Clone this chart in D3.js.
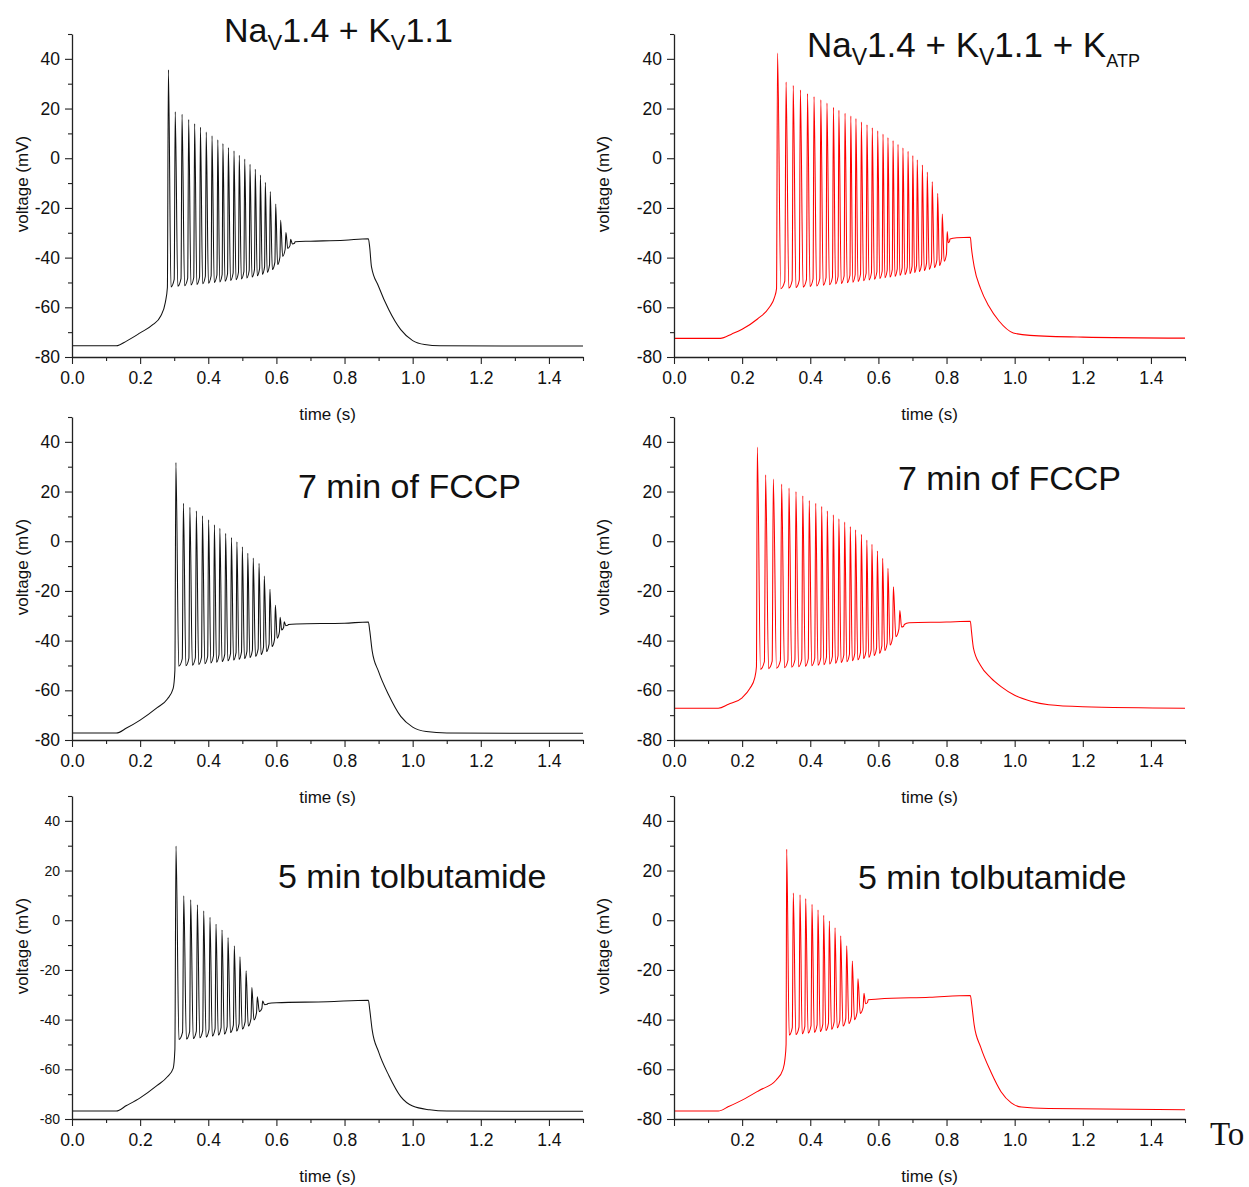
<!DOCTYPE html>
<html>
<head>
<meta charset="utf-8">
<script src="https://cdn.jsdelivr.net/npm/d3@7"></script>
<style>
  html, body { margin: 0; padding: 0; background: #fff; }
  svg { display: block; }
  text { font-family: "Liberation Sans", Arial, Helvetica, sans-serif; fill: #111; }
</style>
</head>
<body>
<svg id="fig" width="1249" height="1187"></svg>
<script>
// ---------- axis ticks ----------
const timeTicks = [0, 0.2, 0.4, 0.6, 0.8, 1.0, 1.2, 1.4];
const timeMinorTicks = [0.1, 0.3, 0.5, 0.7, 0.9, 1.1, 1.3, 1.5];
const voltTicks = [-80, -60, -40, -20, 0, 20, 40];
const voltMinorTicks = [-70, -50, -30, -10, 10, 30, 50];

// ---------- Nav1.4 + Kv1.1 ----------
const kvRise = [[0, -75.5], [0.13, -75.5], [0.16, -73.6], [0.2, -70.3], [0.238, -66.9], [0.26, -63.6], [0.274, -58], [0.28, -52]];
const kvSpikeTimes = [0.283, 0.303, 0.323, 0.3425, 0.360, 0.377, 0.394, 0.411, 0.428, 0.443, 0.459, 0.4755, 0.491, 0.507, 0.5225, 0.538, 0.553, 0.5675, 0.582, 0.598, 0.6125, 0.628, 0.642];
const kvSpikePeaks = [35.6, 18.7, 17.7, 15.6, 13.9, 12.5, 10.5, 9.0, 7.4, 5.9, 4.3, 3.0, 1.2, -0.3, -2.4, -4.4, -6.8, -9.7, -13.4, -18.4, -25.0, -29.9, -32.6];
const kvTroughs = [-51.8, -51.5, -51.3, -51.0, -50.8, -50.5, -50.3, -50.0, -49.8, -49.5, -49.2, -48.9, -48.6, -48.2, -47.8, -47.3, -46.7, -45.9, -44.8, -42.8, -39.5, -36.3, -34.5];
const kvTail = [[0.655, -33.6], [0.7, -33.4], [0.8, -33.0], [0.87, -32.4], [0.874, -36], [0.879, -43.6], [0.9, -51.6], [0.93, -61], [0.965, -69], [1.0, -73.4], [1.035, -75], [1.08, -75.5], [1.5, -75.6]];

// ---------- Nav1.4 + Kv1.1 + KATP ----------
const katpRise = [[0, -72.5], [0.136, -72.5], [0.17, -70.7], [0.2, -68.8], [0.245, -64.7], [0.28, -60], [0.295, -56], [0.301, -52.5]];
const katpSpikeTimes = [0.304, 0.329, 0.350, 0.371, 0.392, 0.411, 0.431, 0.449, 0.468, 0.484, 0.502, 0.519, 0.534, 0.550, 0.5665, 0.582, 0.598, 0.6135, 0.628, 0.643, 0.6575, 0.672, 0.687, 0.701, 0.714, 0.729, 0.7435, 0.758, 0.774, 0.7875, 0.802];
const katpSpikePeaks = [42.3, 30.7, 29.3, 27.5, 26.0, 24.8, 23.5, 22.2, 20.5, 19.3, 18.1, 17.0, 16.0, 14.6, 13.5, 12.3, 11.0, 9.7, 8.3, 7.1, 5.6, 4.2, 2.8, 1.1, -0.6, -2.7, -5.6, -9.4, -14.1, -22.5, -29.5];
const katpTroughs = [-52.5, -52.3, -52.1, -51.9, -51.6, -51.4, -51.1, -50.9, -50.6, -50.4, -50.1, -49.9, -49.6, -49.3, -49.0, -48.7, -48.4, -48.1, -47.8, -47.5, -47.1, -46.8, -46.4, -46.0, -45.6, -45.2, -44.7, -44.0, -43.2, -41.5, -34.0];
const katpTail = [[0.81, -32.5], [0.83, -32.0], [0.87, -31.8], [0.873, -36], [0.881, -43.5], [0.9, -52.5], [0.924, -59.5], [0.954, -65.5], [0.996, -70.3], [1.045, -71.3], [1.2, -72.0], [1.5, -72.4]];

// ---------- 7 min of FCCP (Nav1.4 + Kv1.1) ----------
const fccpKvRise = [[0, -77.2], [0.13, -77.2], [0.16, -75.2], [0.2, -72], [0.25, -67], [0.28, -63.5], [0.297, -59.2], [0.302, -52]];
const fccpKvSpikeTimes = [0.305, 0.327, 0.346, 0.365, 0.383, 0.401, 0.418, 0.434, 0.451, 0.468, 0.484, 0.500, 0.516, 0.532, 0.549, 0.5645, 0.581, 0.597, 0.611, 0.623];
const fccpKvSpikePeaks = [31.7, 15.3, 13.7, 12.2, 10.2, 8.6, 6.6, 5.2, 3.2, 1.5, -0.2, -2.2, -4.8, -6.8, -8.9, -14.0, -19.3, -25.8, -30.6, -32.4];
const fccpKvTroughs = [-50.3, -50.1, -49.9, -49.6, -49.3, -49.0, -48.7, -48.4, -48.1, -47.8, -47.5, -47.2, -46.8, -46.3, -45.6, -44.4, -42.4, -39.0, -35.7, -34.0];
const fccpKvTail = [[0.635, -33.5], [0.66, -33.3], [0.8, -33.0], [0.87, -32.5], [0.874, -36], [0.881, -44], [0.9, -52.5], [0.93, -62], [0.965, -70.5], [1.0, -74.8], [1.04, -76.6], [1.1, -77.2], [1.5, -77.3]];

// ---------- 7 min of FCCP (with KATP) ----------
const fccpKatpRise = [[0, -67.2], [0.13, -67.2], [0.16, -65.6], [0.2, -63], [0.223, -59.2], [0.237, -55], [0.242, -50.5]];
const fccpKatpSpikeTimes = [0.2446, 0.269, 0.2916, 0.316, 0.3376, 0.358, 0.378, 0.397, 0.416, 0.4335, 0.450, 0.4676, 0.484, 0.501, 0.5175, 0.533, 0.550, 0.566, 0.581, 0.597, 0.6125, 0.628, 0.644, 0.663];
const fccpKatpSpikePeaks = [37.9, 26.7, 25.0, 23.0, 21.4, 20.0, 18.3, 16.4, 15.3, 14.0, 12.2, 10.6, 9.0, 7.7, 5.9, 4.6, 2.8, 0.5, -1.2, -3.9, -6.9, -10.9, -18.3, -27.9];
const fccpKatpTroughs = [-51.5, -51.3, -51.1, -50.9, -50.7, -50.5, -50.3, -50.1, -49.9, -49.7, -49.4, -49.1, -48.8, -48.5, -48.1, -47.7, -47.2, -46.7, -46.0, -45.1, -44.0, -41.8, -38.4, -34.5];
const fccpKatpTail = [[0.676, -33.5], [0.69, -32.8], [0.8, -32.5], [0.87, -32.2], [0.873, -36], [0.879, -43], [0.9, -50], [0.93, -55], [0.96, -58.5], [1.0, -62], [1.05, -64.5], [1.1, -65.8], [1.2, -66.6], [1.5, -67.2]];

// ---------- 5 min tolbutamide (Nav1.4 + Kv1.1) ----------
const tolbKvRise = [[0, -76.8], [0.13, -76.8], [0.16, -74.6], [0.2, -71.5], [0.25, -66.5], [0.28, -63], [0.297, -59.6], [0.302, -52]];
const tolbKvSpikeTimes = [0.3053, 0.328, 0.3484, 0.368, 0.3866, 0.405, 0.4227, 0.4403, 0.458, 0.4765, 0.493, 0.511, 0.528, 0.544, 0.5597];
const tolbKvSpikePeaks = [29.9, 9.8, 8.2, 6.2, 3.8, 1.2, -1.5, -3.9, -7.0, -10.3, -14.7, -20.3, -27.1, -30.8, -32.5];
const tolbKvTroughs = [-48.0, -47.8, -47.6, -47.3, -47.0, -46.6, -46.2, -45.8, -45.2, -44.6, -43.8, -42.6, -40.1, -36.8, -34.0];
const tolbKvTail = [[0.575, -33.5], [0.6, -33.2], [0.75, -32.8], [0.87, -32.2], [0.874, -36], [0.881, -44], [0.9, -53], [0.93, -62.5], [0.965, -71], [1.0, -74.8], [1.05, -76.3], [1.1, -76.8], [1.5, -76.9]];

// ---------- 5 min tolbutamide (with KATP) ----------
const tolbKatpRise = [[0, -76.8], [0.13, -76.8], [0.16, -75], [0.2, -72.4], [0.25, -68.5], [0.3, -64.3], [0.32, -60], [0.326, -55.6], [0.329, -50]];
const tolbKatpSpikeTimes = [0.3308, 0.3502, 0.3699, 0.3866, 0.4051, 0.4227, 0.4394, 0.4559, 0.4726, 0.4893, 0.5069, 0.5234, 0.540, 0.5577];
const tolbKatpSpikePeaks = [28.6, 10.9, 10.2, 8.7, 6.4, 4.2, 2.0, -0.3, -3.0, -6.3, -10.3, -16.4, -23.6, -29.4];
const tolbKatpTroughs = [-46.2, -46.0, -45.7, -45.4, -45.1, -44.8, -44.4, -43.9, -43.3, -42.6, -41.6, -40.0, -37.5, -33.6];
const tolbKatpTail = [[0.57, -32.0], [0.6, -31.7], [0.75, -31.0], [0.87, -30.3], [0.874, -34], [0.881, -42], [0.9, -51], [0.93, -61], [0.96, -69], [0.99, -73.5], [1.02, -75.2], [1.1, -75.8], [1.5, -76.3]];

// ---------- panel titles (text pieces: 0 = normal, 1 = subscript, 2 = small subscript) ----------
const titleKv = [["Na", 0], ["V", 1], ["1.4 + K", 0], ["V", 1], ["1.1", 0]];
const titleKatp = [["Na", 0], ["V", 1], ["1.4 + K", 0], ["V", 1], ["1.1 + K", 0], ["ATP", 2]];
const titleFccp = [["7 min of FCCP", 0]];
const titleTolb = [["5 min tolbutamide", 0]];

// ---------- layout ----------
const PLOT_W = 511;
const PLOT_H = 323;
const colLeft = [72, 674];
const rowBottom = [357, 740, 1119];

const panels = [
  { rise: kvRise, t: kvSpikeTimes, p: kvSpikePeaks, m: kvTroughs, tail: kvTail,
    color: "#111", col: 0, row: 0, title: titleKv, tx: 224, ty: 42, tsize: 34, subSize: 22, tickFont: 17.5, skipZero: false },
  { rise: katpRise, t: katpSpikeTimes, p: katpSpikePeaks, m: katpTroughs, tail: katpTail,
    color: "#ff0000", col: 1, row: 0, title: titleKatp, tx: 807, ty: 57, tsize: 35, subSize: 23, tickFont: 17.5, skipZero: false },
  { rise: fccpKvRise, t: fccpKvSpikeTimes, p: fccpKvSpikePeaks, m: fccpKvTroughs, tail: fccpKvTail,
    color: "#111", col: 0, row: 1, title: titleFccp, tx: 298, ty: 498, tsize: 34, subSize: 22, tickFont: 17.5, skipZero: false },
  { rise: fccpKatpRise, t: fccpKatpSpikeTimes, p: fccpKatpSpikePeaks, m: fccpKatpTroughs, tail: fccpKatpTail,
    color: "#ff0000", col: 1, row: 1, title: titleFccp, tx: 898, ty: 490, tsize: 34, subSize: 22, tickFont: 17.5, skipZero: false },
  { rise: tolbKvRise, t: tolbKvSpikeTimes, p: tolbKvSpikePeaks, m: tolbKvTroughs, tail: tolbKvTail,
    color: "#111", col: 0, row: 2, title: titleTolb, tx: 278, ty: 888, tsize: 34, subSize: 22, tickFont: 14, skipZero: false },
  { rise: tolbKatpRise, t: tolbKatpSpikeTimes, p: tolbKatpSpikePeaks, m: tolbKatpTroughs, tail: tolbKatpTail,
    color: "#ff0000", col: 1, row: 2, title: titleTolb, tx: 858, ty: 889, tsize: 34, subSize: 22, tickFont: 17.5, skipZero: true }
];

// Builds the membrane-voltage trace: pre-spike ramp, each spike peak with its
// after-hyperpolarisation trough, then the plateau and repolarisation.
function tracePoints(d) {
  const pts = d.rise.slice();
  d.t.forEach((t, i) => {
    const last = i === d.t.length - 1;
    const next = last ? d.tail[0][0] : d.t[i + 1];
    const nextV = last ? d.tail[0][1] : d.p[i + 1];
    const dt = next - t;
    pts.push([t, d.p[i]]);
    pts.push([t + 0.38 * dt, d.m[i]]);
    pts.push([t + 0.85 * dt, d.m[i] + Math.min(3, (nextV - d.m[i]) * 0.3)]);
  });
  return pts.concat(d.tail);
}

const svg = d3.select("#fig");
const x = d3.scaleLinear().domain([0, 1.5]).range([0, PLOT_W]);
const y = d3.scaleLinear().domain([-80, 50]).range([PLOT_H, 0]);
const line = d3.line().x(d => x(d[0])).y(d => y(d[1])).curve(d3.curveMonotoneX);
const plainInt = v => String(v);  // hyphen-minus, as on the original axes

panels.forEach(d => {
  const left = colLeft[d.col];
  const top = rowBottom[d.row] - PLOT_H;
  const g = svg.append("g").attr("transform", `translate(${left},${top})`);

  // trace
  g.append("path")
    .datum(tracePoints(d))
    .attr("fill", "none")
    .attr("stroke", d.color)
    .attr("stroke-width", 1.05)
    .attr("stroke-linejoin", "round")
    .attr("d", line);

  // minor ticks
  g.append("g").attr("transform", `translate(0,${PLOT_H})`)
    .call(d3.axisBottom(x).tickValues(timeMinorTicks).tickSize(4).tickSizeOuter(0).tickFormat(""))
    .call(a => a.select(".domain").remove());
  g.append("g")
    .call(d3.axisLeft(y).tickValues(voltMinorTicks).tickSize(4).tickSizeOuter(0).tickFormat(""))
    .call(a => a.select(".domain").remove());

  // major axes
  const xAx = g.append("g").attr("class", "xaxis").attr("transform", `translate(0,${PLOT_H})`)
    .call(d3.axisBottom(x).tickValues(timeTicks).tickSize(7).tickSizeOuter(0).tickPadding(8)
      .tickFormat(v => (d.skipZero && v === 0) ? "" : d3.format(".1f")(v)));
  xAx.selectAll("text").attr("font-size", 17.5).attr("fill", "#111")
    .style("font-family", '"Liberation Sans", Arial, sans-serif');

  const yAx = g.append("g").attr("class", "yaxis")
    .call(d3.axisLeft(y).tickValues(voltTicks).tickSize(7).tickSizeOuter(0).tickPadding(5)
      .tickFormat(plainInt));
  yAx.selectAll("text").attr("font-size", d.tickFont).attr("fill", "#111")
    .style("font-family", '"Liberation Sans", Arial, sans-serif');

  g.selectAll(".domain").attr("stroke", "#222").attr("stroke-width", 1.3);
  g.selectAll(".tick line").attr("stroke", "#222").attr("stroke-width", 1.1);

  // axis titles
  g.append("text")
    .attr("x", PLOT_W / 2).attr("y", PLOT_H + 57)
    .attr("text-anchor", "middle").attr("dominant-baseline", "central")
    .attr("font-size", 17)
    .text("time (s)");
  g.append("text")
    .attr("transform", `translate(${d.col === 0 ? -50 : -71},150) rotate(-90)`)
    .attr("text-anchor", "middle").attr("dominant-baseline", "central")
    .attr("font-size", 17)
    .text("voltage (mV)");

  // panel title
  const title = svg.append("text").attr("x", d.tx).attr("y", d.ty).attr("font-size", d.tsize);
  let level = 0;
  d.title.forEach(([txt, lv]) => {
    const shift = { 0: 0, 1: 8, 2: 10 };
    const size = lv === 0 ? d.tsize : (lv === 1 ? d.subSize : 18);
    title.append("tspan")
      .attr("dy", shift[lv] - shift[level])
      .attr("font-size", size)
      .text(txt);
    level = lv;
  });
});

// stray caption fragment at the lower right edge
svg.append("text")
  .attr("x", 1210).attr("y", 1145)
  .attr("font-size", 33)
  .style("font-family", '"Liberation Serif", "Times New Roman", serif')
  .text("To");
</script>
</body>
</html>
